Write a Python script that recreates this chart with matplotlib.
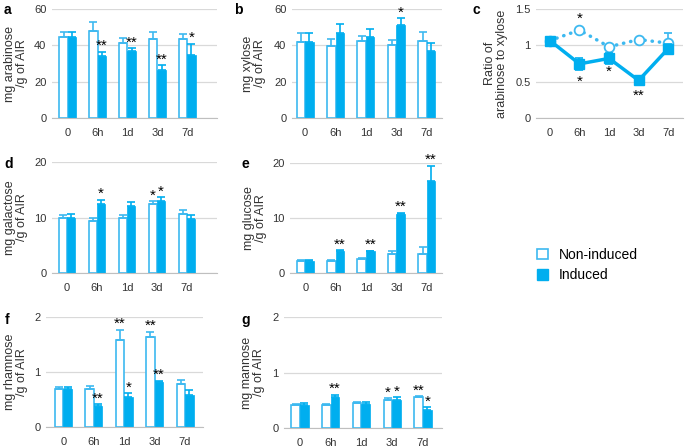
import matplotlib.pyplot as plt
from matplotlib.patches import Patch
import numpy as np

plt.rcParams['font.family'] = ['Liberation Sans', 'DejaVu Sans']

times = ["0", "6h", "1d", "3d", "7d"]

# a: arabinose
arabinose_non = [44.8, 48.1, 41.1, 43.3, 43.3]
arabinose_non_err = [2.5, 4.7, 2.8, 3.9, 3.1]
arabinose_ind = [44.8, 34.2, 37.1, 26.5, 34.7]
arabinose_ind_err = [2.5, 2.4, 1.3, 2.4, 6.1]
arabinose_non_sig = ["", "", "", "", ""]
arabinose_ind_sig = ["", "**", "**", "**", "*"]

# b: xylose
xylose_non = [42.1, 39.9, 42.2, 40.0, 42.6]
xylose_non_err = [4.5, 3.6, 3.1, 2.8, 4.9]
xylose_ind = [42.1, 47.0, 44.8, 51.0, 36.9]
xylose_ind_err = [4.5, 4.7, 4.0, 3.8, 4.2]
xylose_non_sig = ["", "", "", "", ""]
xylose_ind_sig = ["", "", "", "*", ""]

# c: ratio arabinose / xylose
ratio_non = [1.065, 1.21, 0.98, 1.08, 1.03]
ratio_non_err = [0.02, 0.02, 0.02, 0.02, 0.14]
ratio_ind = [1.065, 0.745, 0.82, 0.517, 0.955]
ratio_ind_err = [0.02, 0.08, 0.07, 0.02, 0.06]
ratio_sig_x = [1, 1, 2, 3]
ratio_sig_y = [1.37, 0.50, 0.63, 0.30]
ratio_sig_text = ["*", "*", "*", "**"]

# d: galactose
galactose_non = [9.97, 9.43, 9.97, 12.4, 10.7]
galactose_non_err = [0.55, 0.55, 0.55, 0.55, 0.6]
galactose_ind = [9.97, 12.45, 12.0, 13.0, 9.7]
galactose_ind_err = [0.65, 0.75, 0.75, 0.7, 0.75]
galactose_non_sig = ["", "", "", "*", ""]
galactose_ind_sig = ["", "*", "", "*", ""]

# e: glucose
glucose_non = [2.2, 2.2, 2.62, 3.48, 3.48]
glucose_non_err = [0.1, 0.18, 0.18, 0.6, 1.2]
glucose_ind = [2.2, 4.08, 3.96, 10.67, 16.77]
glucose_ind_err = [0.1, 0.12, 0.12, 0.31, 2.73]
glucose_non_sig = ["", "", "", "", ""]
glucose_ind_sig = ["", "**", "**", "**", "**"]

# f: rhamnose
rhamnose_non = [0.70, 0.70, 1.59, 1.64, 0.78]
rhamnose_non_err = [0.03, 0.045, 0.18, 0.09, 0.08]
rhamnose_ind = [0.70, 0.39, 0.545, 0.82, 0.59]
rhamnose_ind_err = [0.03, 0.02, 0.075, 0.02, 0.08]
rhamnose_non_sig = ["", "", "**", "**", ""]
rhamnose_ind_sig = ["", "**", "*", "**", ""]

# g: mannose
mannose_non = [0.42, 0.42, 0.45, 0.51, 0.55]
mannose_non_err = [0.02, 0.02, 0.02, 0.03, 0.02]
mannose_ind = [0.41, 0.55, 0.43, 0.50, 0.32]
mannose_ind_err = [0.04, 0.05, 0.04, 0.05, 0.05]
mannose_non_sig = ["", "", "", "*", "**"]
mannose_ind_sig = ["", "**", "", "*", "*"]

ind_color = "#00AEEF"
non_color = "#3DB9F0"
grid_color = "#D9D9D9"
text_color = "#333333"

W, H = 685, 448
fig = plt.figure(figsize=(W / 100, H / 100), dpi=100)


def make_axes(x0, y0, x1, y1):
    return fig.add_axes([x0 / W, 1 - y1 / H, (x1 - x0) / W, (y1 - y0) / H])


def style(ax, ymax, yticks, xlim, letter, ylabel, lab_x, letter_xy):
    ax.set_ylim(0, ymax)
    ax.set_xlim(*xlim)
    ax.set_yticks(yticks)
    ax.set_xticks(range(len(times)))
    ax.set_xticklabels(times)
    ax.yaxis.grid(True, color=grid_color, lw=0.9)
    ax.set_axisbelow(True)
    for s in ["top", "right", "left"]:
        ax.spines[s].set_visible(False)
    ax.spines["bottom"].set_color("#BFBFBF")
    ax.tick_params(length=0, labelsize=8, colors=text_color)
    ax.tick_params(axis="x", pad=7)
    ax.tick_params(axis="y", pad=4)
    fig.text(lab_x / W, 0.5 * (ax.get_position().y0 + ax.get_position().y1),
             ylabel, rotation=90, ha="center", va="center",
             multialignment="center", fontsize=9, color=text_color,
             linespacing=1.05)
    fig.text(letter_xy[0] / W, 1 - letter_xy[1] / H, letter, fontsize=10,
             fontweight="bold", ha="left", va="center")


def bar_panel(ax, non, non_err, ind, ind_err, non_sig, ind_sig):
    x = np.arange(len(times))
    w = 0.28
    zeros = [0] * len(times)
    ax.bar(x - w / 2, non, w, color="white", edgecolor=non_color, lw=1.2,
           yerr=[zeros, non_err], ecolor=non_color,
           error_kw=dict(capsize=3, elinewidth=1.2, capthick=1.2))
    ax.bar(x + w / 2, ind, w, color=ind_color, edgecolor=ind_color, lw=0.5,
           yerr=[zeros, ind_err], ecolor=ind_color,
           error_kw=dict(capsize=3, elinewidth=1.2, capthick=1.2))
    for i in range(len(times)):
        if non_sig[i]:
            ax.annotate(non_sig[i], (x[i] - w / 2, non[i] + non_err[i]),
                        xytext=(0, -1), textcoords="offset points",
                        ha="center", va="bottom", fontsize=11,
                        annotation_clip=False)
        if ind_sig[i]:
            ax.annotate(ind_sig[i], (x[i] + w / 2, ind[i] + ind_err[i]),
                        xytext=(0, -1), textcoords="offset points",
                        ha="center", va="bottom", fontsize=11,
                        annotation_clip=False)


# a
ax = make_axes(52, 9, 217, 118)
bar_panel(ax, arabinose_non, arabinose_non_err, arabinose_ind,
          arabinose_ind_err, arabinose_non_sig, arabinose_ind_sig)
style(ax, 60, [0, 20, 40, 60], (-0.53, 5.0), "a",
      "mg arabinose\n/g of AIR", 16, (4, 10))

# b
ax = make_axes(292, 9, 442, 118)
bar_panel(ax, xylose_non, xylose_non_err, xylose_ind, xylose_ind_err,
          xylose_non_sig, xylose_ind_sig)
style(ax, 60, [0, 20, 40, 60], (-0.43, 4.5), "b",
      "mg xylose\n/g of AIR", 254, (234, 10))

# c
ax = make_axes(536, 9, 683, 118)
x = np.arange(len(times))
ax.errorbar(x, ratio_non, yerr=ratio_non_err, color=non_color, lw=2.5,
            ls=(0, (0.1, 2.0)), dash_capstyle="round", marker="o", ms=7,
            mfc="white", mec=non_color, mew=1.3, capsize=3, elinewidth=1.2,
            capthick=1.2, zorder=3)
ax.errorbar(x, ratio_ind, yerr=ratio_ind_err, color=ind_color, lw=2.5,
            marker="s", ms=7, capsize=3, elinewidth=1.2, capthick=1.2,
            zorder=4)
for sx, sy, st in zip(ratio_sig_x, ratio_sig_y, ratio_sig_text):
    ax.text(sx, sy, st, ha="center", va="center", fontsize=11)
style(ax, 1.5, [0, 0.5, 1, 1.5], (-0.47, 4.5), "c",
      "Ratio of\narabinose to xylose", 496, (473, 10))
ax.set_yticklabels(["0", "0.5", "1", "1.5"])

# d
ax = make_axes(52, 162, 217, 273)
bar_panel(ax, galactose_non, galactose_non_err, galactose_ind,
          galactose_ind_err, galactose_non_sig, galactose_ind_sig)
style(ax, 20, [0, 10, 20], (-0.5, 5.0), "d",
      "mg galactose\n/g of AIR", 16, (4, 164))

# e
ax = make_axes(290, 163, 442, 273)
bar_panel(ax, glucose_non, glucose_non_err, glucose_ind, glucose_ind_err,
          glucose_non_sig, glucose_ind_sig)
style(ax, 20, [0, 10, 20], (-0.5, 4.5), "e",
      "mg glucose\n/g of AIR", 255, (241, 164))

# f
ax = make_axes(46, 317, 203, 427)
bar_panel(ax, rhamnose_non, rhamnose_non_err, rhamnose_ind,
          rhamnose_ind_err, rhamnose_non_sig, rhamnose_ind_sig)
style(ax, 2, [0, 1, 2], (-0.57, 4.59), "f",
      "mg rhamnose\n/g of AIR", 16, (5, 320))

# g
ax = make_axes(284, 317, 442, 428)
bar_panel(ax, mannose_non, mannose_non_err, mannose_ind, mannose_ind_err,
          mannose_non_sig, mannose_ind_sig)
style(ax, 2, [0, 1, 2], (-0.52, 4.62), "g",
      "mg mannose\n/g of AIR", 253, (241, 320))

handles = [Patch(facecolor="white", edgecolor=non_color, lw=1.2,
                 label="Non-induced"),
           Patch(facecolor=ind_color, edgecolor=ind_color,
                 label="Induced")]
fig.legend(handles=handles, loc="upper left",
           bbox_to_anchor=(530 / W, 1 - 241 / H), frameon=False,
           fontsize=10, handlelength=0.8, handleheight=0.8,
           handletextpad=0.8, labelspacing=0.45, borderpad=0)

fig.savefig("out.png", dpi=100)
